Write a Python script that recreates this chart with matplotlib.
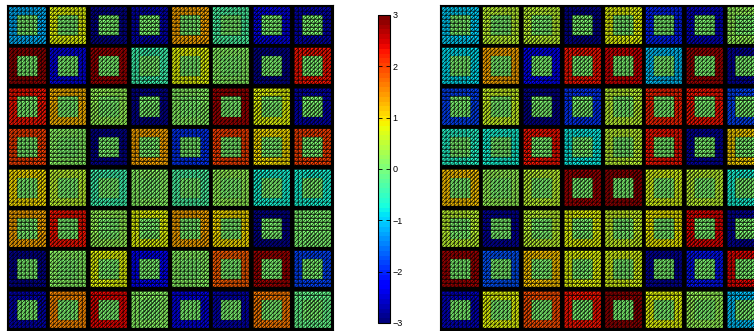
import matplotlib.pyplot as plt
import matplotlib.tri as mtri
import numpy as np

plt.rcParams['font.family'] = ['Liberation Sans', 'DejaVu Sans']

# valeur de l'anneau de chaque case (ligne du haut en premier)
left_vals = [
    [-1.2, 0.8, -2.9, -2.7, 1.4, -0.3, -2.4, -2.7],
    [2.9, -2.4, 2.8, -0.4, 0.8, 0.1, -2.9, 2.3],
    [2.3, 1.3, 0.2, -2.9, 0.1, 2.8, 0.8, -2.7],
    [2.0, 0.1, -2.9, 1.4, -1.9, 2.0, 1.0, 2.0],
    [1.0, 0.5, -0.4, 0.1, -0.3, 0.2, -0.7, -0.7],
    [1.4, 2.3, 0.2, 0.8, 1.4, 1.0, -2.9, 0.0],
    [-2.9, 0.1, 0.8, -2.3, 0.1, 1.8, 2.8, -1.8],
    [-2.7, 1.5, 2.4, 0.1, -2.4, -2.7, 1.6, -0.1],
]
right_vals = [
    [-1.0, 0.5, 0.5, -2.9, 0.8, -2.0, -2.6, 0.2],
    [-0.9, 1.4, -2.3, 2.3, 2.5, -1.1, 2.8, -2.8],
    [-1.8, 0.6, -2.9, -1.9, 0.5, 2.2, 2.3, -1.8],
    [-0.6, -0.7, 2.3, -0.8, 0.5, 2.3, -2.8, 1.1],
    [1.2, 0.2, 0.5, 2.8, 2.9, 0.7, 0.5, -0.7],
    [0.5, -2.8, 0.5, 0.8, 0.6, 0.9, 2.4, -2.8],
    [2.8, -1.7, 1.2, 0.8, 0.7, -2.8, -2.1, 2.4],
    [-2.6, 0.8, 1.9, 2.3, 2.9, 0.8, 0.2, -1.1],
]
inner_val = 0.0
cbar_ticks = [-3, -2, -1, 0, 1, 2, 3]

nsub = 9          # sous-mailles par case
margin = 0.05
cmap = plt.get_cmap('jet', 64)


def build_mesh(vals):
    xs, ys, tris, cols = [], [], [], []
    n = len(vals)
    for r in range(n):
        for c in range(n):
            x0 = c + margin
            y0 = n - 1 - r + margin
            h = (1 - 2 * margin) / nsub
            base = len(xs)
            for j in range(nsub + 1):
                for i in range(nsub + 1):
                    xs.append(x0 + i * h)
                    ys.append(y0 + j * h)
            for j in range(nsub):
                for i in range(nsub):
                    p = base + j * (nsub + 1) + i
                    inner = 2 <= i <= 6 and 2 <= j <= 6
                    v = inner_val if inner else vals[r][c]
                    tris.append([p, p + 1, p + nsub + 2])
                    tris.append([p, p + nsub + 2, p + nsub + 1])
                    cols += [v, v]
    return mtri.Triangulation(xs, ys, tris), np.array(cols)


fig = plt.figure(figsize=(7.54, 3.31), dpi=100)

ax1 = fig.add_axes([7 / 754, 1 / 331, 326 / 754, 325 / 331])
ax2 = fig.add_axes([440 / 754, 1 / 331, 326 / 754, 325 / 331])
for ax, vals in [(ax1, left_vals), (ax2, right_vals)]:
    tri, cols = build_mesh(vals)
    pc = ax.tripcolor(tri, facecolors=cols, cmap=cmap, vmin=-3, vmax=3,
                      edgecolors='k', linewidth=0.33)
    ax.set_facecolor('black')
    ax.set_xlim(0, 8)
    ax.set_ylim(0, 8)
    ax.set_xticks([])
    ax.set_yticks([])

cax = fig.add_axes([378 / 754, 8 / 331, 12 / 754, 308 / 331])
cb = fig.colorbar(pc, cax=cax, ticks=cbar_ticks)
cb.ax.tick_params(direction='in', length=3, width=0.6, labelsize=6.5,
                  left=True, right=True, pad=2)
cb.outline.set_linewidth(0.8)
cb.ax.set_yticklabels(['\u22123', '\u22122', '\u22121', '0', '1', '2', '3'])

plt.savefig('out.png', dpi=100)
